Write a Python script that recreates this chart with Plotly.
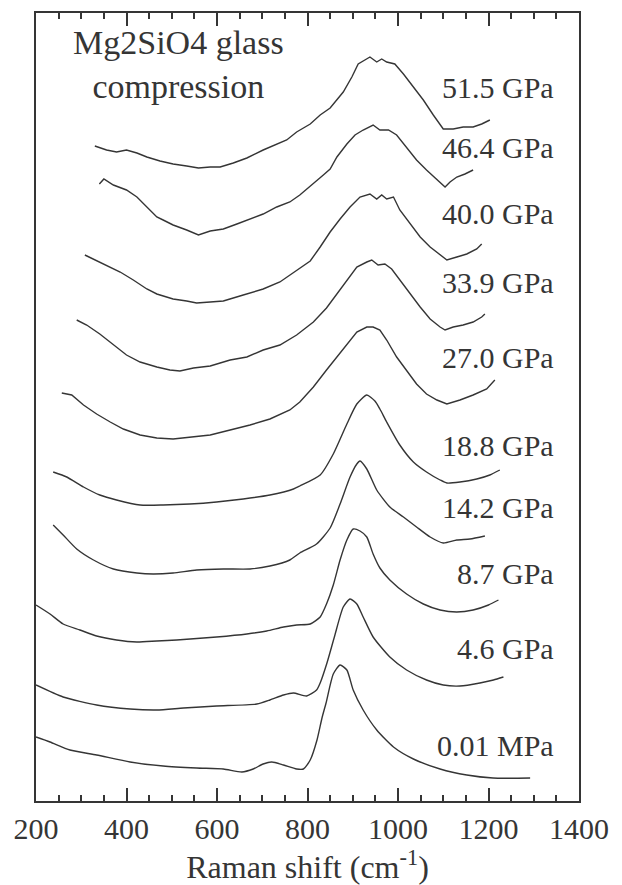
import plotly.graph_objects as go

# Raman spectra of Mg2SiO4 glass on compression (intensity in arbitrary units)
pressures = ["0.01 MPa", "4.6 GPa", "8.7 GPa", "14.2 GPa", "18.8 GPa",
             "27.0 GPa", "33.9 GPa", "40.0 GPa", "46.4 GPa", "51.5 GPa"]

# vertical offsets used to stack the spectra
offsets = [20, 90, 155, 225, 295, 360, 430, 495, 565, 630]

shift_p0 = [200, 231, 275, 334, 408, 481, 555, 614, 655, 680, 702, 721, 747, 776, 791,
            806, 821, 832, 841, 857, 872, 887, 901, 923, 953, 990, 1034, 1093, 1152, 1210, 1292]
int_p0 = [44, 39, 31, 26, 19, 15, 13, 12, 9, 12, 17, 19, 16, 12, 12,
          21, 41, 63, 78, 107, 116, 111, 91, 71, 51, 34, 22, 12, 6, 3, 3]

shift_p1 = [200, 260, 334, 408, 467, 526, 599, 688, 717, 747, 769, 798, 820, 828, 843,
            860, 879, 894, 909, 923, 945, 982, 1019, 1063, 1100, 1137, 1181, 1211, 1233]
int_p1 = [26, 14, 6, 2, 1, 3, 5, 7, 11, 16, 18, 15, 21, 28, 48,
          75, 104, 112, 107, 94, 74, 54, 41, 31, 26, 25, 28, 31, 34]

shift_p2 = [200, 231, 260, 297, 334, 378, 423, 467, 511, 599, 666, 710, 747, 776, 806, 828, 842,
            857, 872, 887, 901, 916, 931, 945, 960, 982, 1019, 1056, 1093, 1130, 1166, 1200, 1222]
int_p2 = [41, 32, 22, 16, 10, 6, 4, 5, 6, 9, 12, 15, 19, 21, 22, 29, 42,
          61, 86, 106, 117, 115, 109, 92, 78, 66, 52, 42, 36, 34, 36, 41, 46]

shift_p3 = [238, 260, 290, 327, 371, 423, 459, 503, 555, 614, 673, 717, 761, 783, 820,
            850, 872, 894, 909, 916, 931, 953, 982, 1012, 1041, 1071, 1100, 1130, 1159, 1192]
int_p3 = [51, 41, 27, 16, 7, 3, 2, 3, 6, 7, 7, 10, 16, 23, 32,
          48, 72, 99, 112, 115, 107, 86, 69, 59, 49, 39, 33, 36, 37, 40]

shift_p4 = [238, 268, 305, 341, 378, 430, 481, 540, 599, 658, 717, 769, 783, 828, 857,
            887, 909, 931, 949, 960, 975, 1004, 1034, 1063, 1093, 1108, 1137, 1174, 1203, 1225]
int_p4 = [34, 29, 19, 11, 6, 1, 1, 2, 4, 7, 11, 17, 20, 31, 52,
          82, 102, 111, 105, 97, 84, 61, 44, 34, 26, 23, 24, 27, 31, 36]

shift_p5 = [257, 279, 305, 334, 364, 393, 430, 467, 503, 540, 585, 629, 673, 717, 761, 783, 813, 842,
            865, 887, 909, 931, 945, 960, 975, 997, 1019, 1041, 1063, 1086, 1108, 1137, 1166, 1196, 1214]
int_p5 = [48, 46, 36, 27, 19, 12, 6, 3, 2, 4, 6, 11, 16, 22, 31, 39, 54, 71,
          84, 97, 109, 114, 114, 111, 101, 84, 71, 57, 47, 41, 37, 41, 46, 52, 61]

shift_p6 = [290, 312, 341, 371, 400, 430, 467, 496, 518, 548, 585, 629, 666, 702, 739, 776, 813, 842, 865,
            887, 909, 931, 942, 956, 971, 986, 1004, 1027, 1049, 1071, 1093, 1104, 1122, 1144, 1166, 1185, 1192]
int_p6 = [51, 46, 37, 26, 16, 9, 4, 1, 0, 3, 5, 11, 14, 21, 26, 36, 49, 63, 77,
          91, 104, 109, 111, 106, 107, 102, 91, 77, 64, 52, 44, 41, 44, 46, 49, 54, 57]

shift_p7 = [308, 327, 356, 386, 415, 445, 467, 503, 533, 555, 585, 614, 658, 702, 739, 776, 806, 828, 850,
            872, 894, 916, 938, 953, 964, 975, 990, 1004, 1027, 1049, 1071, 1090, 1108, 1130, 1152, 1174, 1185]
int_p7 = [51, 47, 41, 34, 26, 17, 12, 7, 5, 3, 4, 5, 11, 17, 24, 36, 45, 59, 74,
          87, 99, 109, 112, 107, 111, 107, 109, 96, 82, 69, 59, 52, 46, 49, 52, 57, 62]

shift_p8 = [340, 350, 371, 400, 423, 445, 467, 481, 503, 533, 559, 585, 614, 644, 673, 702, 732, 761, 783, 813,
            835, 850, 865, 887, 905, 923, 945, 960, 979, 997, 1019, 1041, 1063, 1086, 1104, 1115, 1130, 1148, 1166]
int_p8 = [52, 57, 51, 46, 39, 29, 19, 16, 11, 6, 1, 5, 7, 12, 17, 22, 29, 34, 41, 52,
          61, 67, 79, 92, 101, 106, 111, 106, 106, 101, 89, 76, 66, 56, 49, 54, 59, 62, 66]

shift_p9 = [330, 356, 378, 400, 423, 445, 474, 503, 533, 559, 585, 607, 636, 666, 702, 732, 754, 776, 806, 828,
            850, 879, 898, 912, 927, 938, 953, 964, 975, 993, 1012, 1034, 1056, 1078, 1100, 1122, 1144, 1166, 1185, 1203]
int_p9 = [25, 21, 19, 21, 18, 14, 10, 7, 5, 3, 4, 4, 8, 13, 21, 27, 31, 39, 47, 56,
          63, 79, 94, 107, 111, 114, 109, 112, 109, 107, 97, 84, 71, 56, 42, 42, 44, 44, 47, 51]

shifts = [shift_p0, shift_p1, shift_p2, shift_p3, shift_p4,
          shift_p5, shift_p6, shift_p7, shift_p8, shift_p9]
intensities = [int_p0, int_p1, int_p2, int_p3, int_p4,
               int_p5, int_p6, int_p7, int_p8, int_p9]

major_ticks = [200, 400, 600, 800, 1000, 1200, 1400]
minor_ticks = [250, 300, 350, 450, 500, 550, 650, 700, 750,
               850, 900, 950, 1050, 1100, 1150, 1250, 1300, 1350]

INK = "#353535"
SERIF = "Liberation Serif, Times New Roman, serif"

fig = go.Figure()
for i, (name, off, xs, ys) in enumerate(zip(pressures, offsets, shifts, intensities)):
    smooth = i <= 4
    fig.add_trace(go.Scatter(
        x=xs, y=[v + off for v in ys], mode="lines", name=name,
        line=dict(color=INK, width=1.4,
                  shape="spline" if smooth else "linear",
                  smoothing=0.6 if smooth else None),
        showlegend=False, hoverinfo="skip"))

# empty trace so the top axis gets drawn
fig.add_trace(go.Scatter(x=[None], y=[None], xaxis="x2", yaxis="y", mode="lines",
                         showlegend=False, hoverinfo="skip"))

# pressure labels at the right of each spectrum
label_y = [56, 153, 228, 294, 356, 444, 519, 588, 654, 714]
for name, ly in zip(pressures, label_y):
    fig.add_annotation(x=1349, y=ly, text=name, showarrow=False,
                       xanchor="right", yanchor="middle",
                       font=dict(family=SERIF, size=30, color=INK))

fig.add_annotation(x=0.262, y=0.935, xref="paper", yref="paper",
                   text="Mg2SiO4 glass<br>compression", showarrow=False,
                   xanchor="center", yanchor="middle", align="center",
                   font=dict(family=SERIF, size=34, color=INK))

# shared tick styling for the bottom axis and its copy along the top edge
tick_style = dict(
    tickmode="array", tickvals=major_ticks,
    ticks="inside", ticklen=13, tickwidth=2, tickcolor=INK,
    minor=dict(tickmode="array", tickvals=minor_ticks,
               ticks="inside", ticklen=6, tickwidth=1.6, tickcolor=INK,
               showgrid=False),
    showgrid=False, zeroline=False, layer="above traces",
    showline=True, linecolor=INK, linewidth=2,
)

fig.update_layout(
    width=622, height=885,
    margin=dict(l=36, r=43, t=13, b=84),
    paper_bgcolor="white", plot_bgcolor="white",
    xaxis=dict(
        range=[200, 1400], **tick_style,
        tickfont=dict(family=SERIF, size=30, color=INK),
        title=dict(text="Raman shift (cm<sup>-1</sup>)", standoff=6,
                   font=dict(family=SERIF, size=32, color=INK)),
    ),
    xaxis2=dict(
        range=[200, 1400], **tick_style, overlaying="x", side="top",
        anchor="y", showticklabels=False,
    ),
    yaxis=dict(
        range=[0, 788], showticklabels=False, ticks="",
        showline=True, linecolor=INK, linewidth=2, mirror=True,
        showgrid=False, zeroline=False,
    ),
)

fig.write_html("out.html")
